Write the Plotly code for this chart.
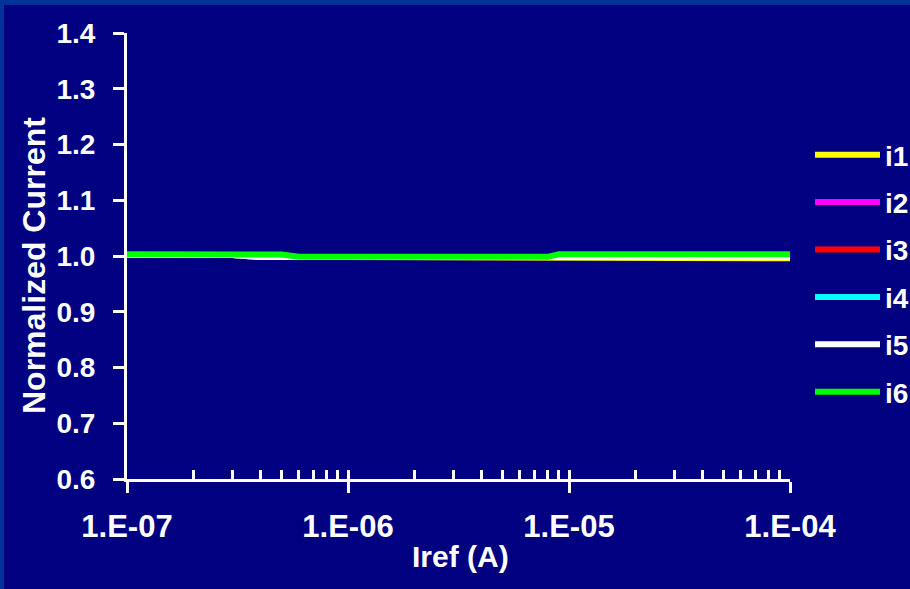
import plotly.graph_objects as go

# Reference current sweep (A)
iref = [1e-7, 2e-7, 3e-7, 4e-7, 5e-7, 6e-7, 7e-7, 1e-6, 2e-6, 3e-6, 5e-6,
        8e-6, 9e-6, 1e-5, 1.2e-5, 1.5e-5, 2e-5, 3e-5, 4e-5, 5e-5, 7e-5, 1e-4]

# Normalized output currents of the six branches
i1 = [1.002, 1.002, 1.002, 0.998, 0.997, 0.998, 0.998, 0.998, 0.998, 0.998, 0.998,
      0.998, 0.998, 0.998, 0.998, 0.998, 0.998, 0.998, 0.998, 0.997, 0.997, 0.996]
i2 = [1.002, 1.002, 1.002, 0.998, 0.997, 0.998, 0.998, 0.998, 0.998, 0.998, 0.998,
      0.998, 0.998, 0.998, 0.998, 0.9975, 0.997, 0.997, 0.997, 0.998, 0.998, 0.998]
i3 = [1.002, 1.002, 1.002, 0.998, 0.997, 0.998, 0.998, 0.998, 0.998, 0.998, 0.998,
      0.998, 0.998, 0.998, 0.997, 0.997, 0.998, 0.998, 0.998, 0.998, 0.998, 0.998]
i4 = [1.002, 1.002, 1.002, 0.998, 0.997, 0.998, 0.998, 0.998, 0.998, 0.998, 0.998,
      0.998, 0.998, 0.9975, 0.997, 0.998, 0.998, 0.998, 0.998, 0.998, 0.998, 0.998]
i5 = [1.002, 1.002, 1.002, 0.998, 0.997, 0.998, 0.998, 0.998, 0.998, 0.998, 0.998,
      0.998, 0.997, 0.997, 0.998, 0.998, 0.998, 0.998, 0.998, 0.998, 0.998, 0.998]
i6 = [1.003, 1.003, 1.003, 1.003, 1.0025, 0.9985, 0.9985, 0.9985, 0.9985, 0.9985, 0.9985,
      0.9985, 1.003, 1.003, 1.003, 1.003, 1.003, 1.003, 1.003, 1.003, 1.003, 1.003]

series = [("i1", i1, "#FFFF00"), ("i2", i2, "#FF00FF"), ("i3", i3, "#FF0000"),
          ("i4", i4, "#00FFFF"), ("i5", i5, "#FFFFFF"), ("i6", i6, "#00FF00")]

x_major = [1e-7, 1e-6, 1e-5, 1e-4]
x_labels = ["1.E-07", "1.E-06", "1.E-05", "1.E-04"]
x_minor = [m * d for d in (1e-7, 1e-6, 1e-5) for m in range(2, 10)]
y_ticks = [0.6, 0.7, 0.8, 0.9, 1.0, 1.1, 1.2, 1.3, 1.4]

NAVY = "#000080"
FRAME = "#003399"
FONT = "Liberation Sans, Arial, sans-serif"

fig = go.Figure()
for name, vals, color in series:
    fig.add_trace(go.Scatter(x=iref, y=vals, name=name, mode="lines",
                             legendgroup=name,
                             line=dict(color=color, width=6)))

# invisible trace on the overlay axis that carries the inner half of the decade ticks
fig.add_trace(go.Scatter(x=[1e-7, 1e-4], y=[1.0, 1.0], xaxis="x2", mode="lines",
                         line=dict(width=0), showlegend=False, hoverinfo="skip"))

W, H = 910, 589
L, R, T, B = 127, 120, 33, 110
pw, ph = W - L - R, H - T - B

fig.update_layout(
    width=W, height=H,
    margin=dict(l=L, r=R, t=T, b=B, autoexpand=False),
    paper_bgcolor=NAVY, plot_bgcolor=NAVY,
    font=dict(family=FONT, size=30, color="white"),
    showlegend=True,
    legend=dict(x=(810 - L) / pw, y=(H - B - 130) / ph,
                xanchor="left", yanchor="top",
                bgcolor="rgba(0,0,0,0)", itemwidth=65, tracegroupgap=8,
                font=dict(family=FONT, size=28, color="white", weight="bold")),
    xaxis=dict(type="log", range=[-7, -4], automargin=False,
               showgrid=False, zeroline=False,
               showline=True, linecolor="white", linewidth=3,
               tickmode="array", tickvals=x_major, ticktext=x_labels,
               ticks="outside", ticklen=11, tickwidth=3, tickcolor="white",
               ticklabelstandoff=7,
               tickfont=dict(family=FONT, size=31, color="white", weight="bold"),
               minor=dict(tickmode="array", tickvals=x_minor, ticks="inside",
                          ticklen=9, tickwidth=3, tickcolor="white", showgrid=False)),
    xaxis2=dict(type="log", range=[-7, -4], overlaying="x", anchor="y",
                side="bottom", showgrid=False, zeroline=False, showline=False,
                automargin=False,
                tickmode="array", tickvals=x_major, showticklabels=False,
                ticks="inside", ticklen=9, tickwidth=3, tickcolor="white"),
    yaxis=dict(range=[0.6, 1.4], showgrid=False, zeroline=False, automargin=False,
               showline=True, linecolor="white", linewidth=3,
               tickmode="array", tickvals=y_ticks,
               ticktext=[f"{v:.1f}" for v in y_ticks],
               ticks="outside", ticklen=11, tickwidth=3, tickcolor="white",
               ticklabelstandoff=12,
               tickfont=dict(family=FONT, size=28, color="white", weight="bold")),
)

# axis titles
fig.add_annotation(text="Iref (A)", xref="paper", yref="paper",
                   x=(460 - L) / pw, y=(H - B - 556) / ph,
                   xanchor="center", yanchor="middle", showarrow=False,
                   font=dict(family=FONT, size=30, color="white", weight="bold"))
fig.add_annotation(text="Normalized Current", xref="paper", yref="paper",
                   x=(34 - L) / pw, y=(H - B - 266) / ph, textangle=-90,
                   xanchor="center", yanchor="middle", showarrow=False,
                   font=dict(family=FONT, size=32, color="white", weight="bold"))

# lighter slide frame along the top and left edges
fig.add_shape(type="rect", xref="paper", yref="paper", layer="below",
              x0=-L / pw, x1=(W - L) / pw, y0=(H - B - 5) / ph, y1=(H - B) / ph,
              line=dict(width=0), fillcolor=FRAME)
fig.add_shape(type="rect", xref="paper", yref="paper", layer="below",
              x0=-L / pw, x1=(-L + 4) / pw, y0=-B / ph, y1=(H - B) / ph,
              line=dict(width=0), fillcolor=FRAME)

fig.write_html("out.html")
